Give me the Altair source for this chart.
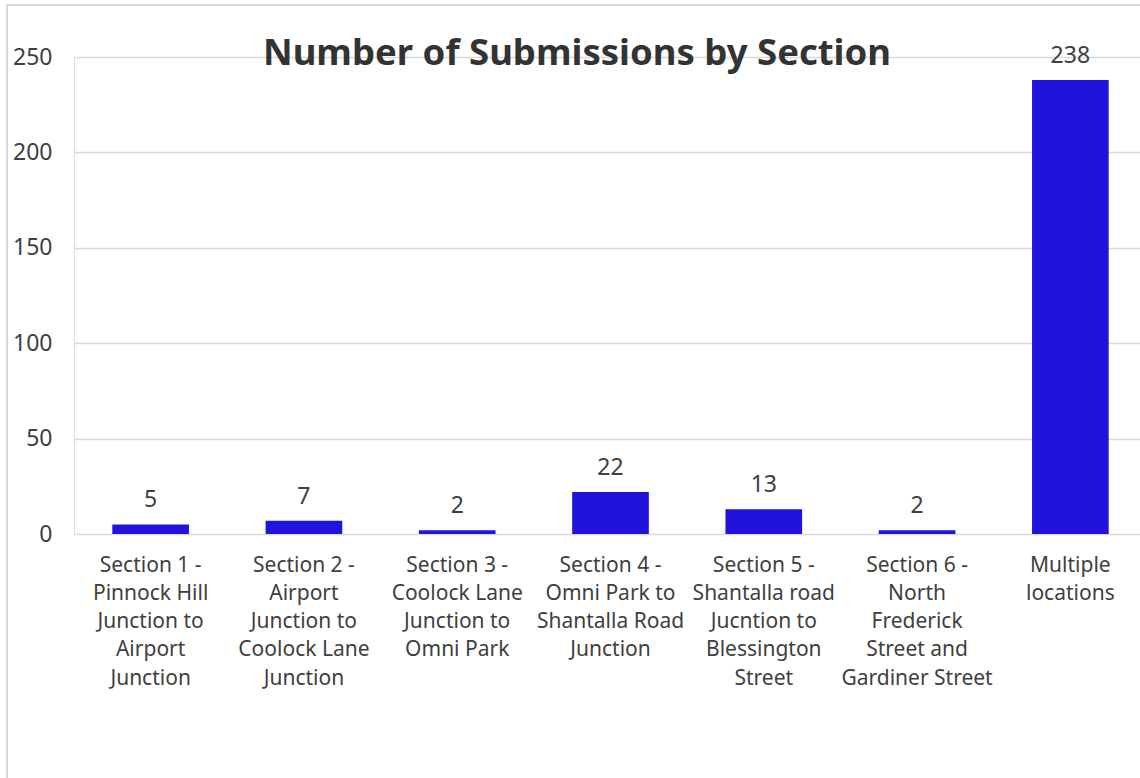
import altair as alt
import pandas as pd

categories = [
    "Section 1 - Pinnock Hill Junction to Airport Junction",
    "Section 2 - Airport Junction to Coolock Lane Junction",
    "Section 3 - Coolock Lane Junction to Omni Park",
    "Section 4 - Omni Park to Shantalla Road Junction",
    "Section 5 - Shantalla road Jucntion to Blessington Street",
    "Section 6 - North Frederick Street and Gardiner Street",
    "Multiple locations",
]
wrapped_labels = [
    "Section 1 -|Pinnock Hill|Junction to|Airport|Junction",
    "Section 2 -|Airport|Junction to|Coolock Lane|Junction",
    "Section 3 -|Coolock Lane|Junction to|Omni Park",
    "Section 4 -|Omni Park to|Shantalla Road|Junction",
    "Section 5 -|Shantalla road|Jucntion to|Blessington|Street",
    "Section 6 -|North|Frederick|Street and|Gardiner Street",
    "Multiple|locations",
]
submissions = [5, 7, 2, 22, 13, 2, 238]
y_ticks = [0, 50, 100, 150, 200, 250]

df = pd.DataFrame({"section": wrapped_labels, "count": submissions})

FONT = "Noto Sans"
TEXT = "#404040"
BAR = "#2113DB"
GRID = "#D9D9D9"

x_scale = alt.Scale(paddingInner=0.5, paddingOuter=0.25, range=[0, 1073])

x_enc = alt.X(
    "section:N",
    sort=wrapped_labels,
    scale=x_scale,
    axis=alt.Axis(
        title=None,
        labelAngle=0,
        labelExpr="split(datum.label, '|')",
        labelFont=FONT,
        labelFontSize=21,
        labelColor=TEXT,
        labelLineHeight=28.3,
        labelPadding=20,
        labelBaseline="top",
        ticks=False,
        domain=False,
        labelLimit=300,
    ),
)
y_enc = alt.Y(
    "count:Q",
    scale=alt.Scale(domain=[0, 250], nice=False),
    axis=alt.Axis(
        title=None,
        values=y_ticks,
        labelFont=FONT,
        labelFontSize=23,
        labelColor=TEXT,
        labelPadding=22,
        ticks=False,
        domain=False,
        gridColor=GRID,
        gridWidth=1.5,
    ),
)

border = alt.Chart(df).mark_rect(
    fill=None, filled=False, stroke=GRID, strokeWidth=2
).encode(
    x=alt.value(-67), x2=alt.value(1200), y=alt.value(-52), y2=alt.value(800)
)

bars = alt.Chart(df).mark_bar(color=BAR).encode(x=x_enc, y=y_enc)

labels = alt.Chart(df).mark_text(
    font=FONT, fontSize=23, color=TEXT, baseline="alphabetic", dy=-17
).encode(x=alt.X("section:N", sort=wrapped_labels, scale=x_scale), y="count:Q", text="count:Q")

chart = (
    alt.layer(border, bars, labels)
    .properties(
        width=1066,
        height=477,
        autosize=alt.AutoSizeParams(type="none"),
        padding={"left": 74, "top": 57, "right": 0, "bottom": 244},
        title=alt.TitleParams(
            "Number of Submissions by Section",
            font=FONT,
            fontSize=36.5,
            fontWeight="bold",
            color="#333333",
            anchor="middle",
            frame="group",
            dx=-30,
            dy=97,
            baseline="alphabetic",
            offset=0,
        ),
    )
    .configure_view(stroke=None)
    .configure(background="white")
)

chart.save("out.html", embed_options={"renderer": "svg", "actions": False})
